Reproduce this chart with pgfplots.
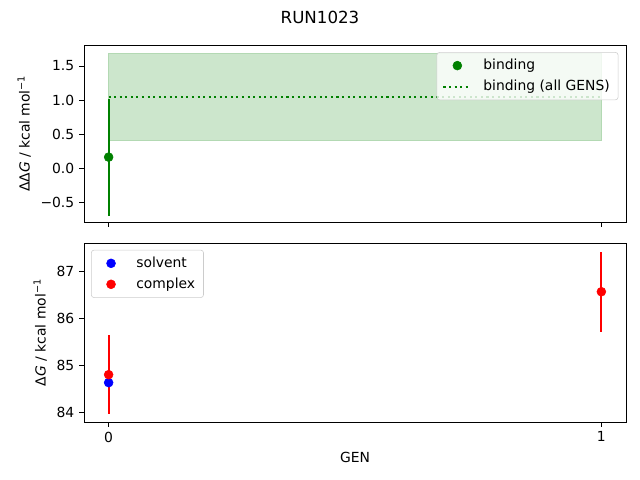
\documentclass[border=0pt]{standalone}
\usepackage{fontspec}
\setmainfont{DejaVu Sans}
\setsansfont{DejaVu Sans}
\usepackage{pgfplots}
\pgfplotsset{compat=1.18}
\definecolor{mgreen}{HTML}{008000}
\definecolor{band}{HTML}{CCE6CC}
\definecolor{bandedge}{HTML}{B3D9B3}

\pgfplotsset{
  runstyle/.style={
    scale only axis,
    width=390.24pt,
    xmin=-0.05, xmax=1.05,
    xtick={0,1},
    xtick pos=bottom, ytick pos=left,
    tick align=outside,
    major tick length=3.5pt,
    every tick/.style={black, line width=0.6pt},
    axis line style={black, line width=0.6pt},
    tick label style={font=\fontsize{10}{12}\selectfont},
    label style={font=\fontsize{10}{12}\selectfont},
    /pgf/number format/assume math mode=true,
    legend style={font=\fontsize{10}{12}\selectfont, draw=black!20, rounded corners=2pt,
      fill=white, fill opacity=0.8, text opacity=1, inner xsep=4pt, inner ysep=3pt,
      row sep=2pt, column sep=0pt,
      /tikz/every odd column/.append style={column sep=6pt}},
    legend image post style={fill opacity=1, draw opacity=1},
    legend cell align=left,
    clip=false,
  },
  markleg/.style={legend image code/.code={
    \path (0pt,0pt) (20pt,0pt);
    \draw[##1, mark repeat=2, mark phase=2] plot coordinates {(0pt,0pt) (10pt,0pt) (20pt,0pt)};}},
  lineleg/.style={legend image code/.code={
    \draw[##1] (0pt,0pt) -- (20pt,0pt);}},
}

\begin{document}
\begin{tikzpicture}
\useasboundingbox (0,0) rectangle (460.8pt,345.6pt);
\node[font=\fontsize{12}{14}\selectfont] at (230.4pt,333.4pt) {RUN1023};

% top panel
\begin{axis}[runstyle,
  at={(60.48pt,185.76pt)}, anchor=south west,
  height=127.44pt,
  ymin=-0.794, ymax=1.809,
  xticklabels={},
  ytick={-0.5,0,0.5,1,1.5},
  yticklabels={−0.5,0.0,0.5,1.0,1.5},
  ylabel={ΔΔ\textit{G} / kcal mol\textsuperscript{−1}},
  legend style={at={(0.986,0.96)}, anchor=north east},
]
\addplot[fill=band, draw=bandedge, line width=0.5pt, forget plot]
  coordinates {(0,0.40) (1,0.40) (1,1.685) (0,1.685)} -- cycle;
\addplot[only marks, mark=*, mark size=3.2pt, color=mgreen, markleg,
  error bars/.cd, y dir=both, y explicit, error mark=none,
  error bar style={line width=1.5pt, mgreen}]
  coordinates {(0,0.16) +- (0,0.86)};
\addlegendentry{binding}
\addplot[mgreen, line width=1.5pt, dash pattern=on 1.5pt off 2.5pt, lineleg]
  coordinates {(0,1.044) (1,1.044)};
\addlegendentry{binding (all GENS)}
\end{axis}

% bottom panel
\begin{axis}[runstyle,
  at={(60.48pt,41.76pt)}, anchor=south west,
  height=128.88pt,
  ymin=83.79, ymax=87.61,
  xticklabels={0,1},
  ytick={84,85,86,87},
  yticklabels={84,85,86,87},
  xlabel={GEN},
  ylabel={Δ\textit{G} / kcal mol\textsuperscript{−1}},
  legend style={at={(0.013,0.962)}, anchor=north west},
]
\addplot[only marks, mark=*, mark size=3.2pt, color=blue, markleg]
  coordinates {(0,84.63)};
\addlegendentry{solvent}
\addplot[only marks, mark=*, mark size=3.2pt, color=red, markleg,
  error bars/.cd, y dir=both, y explicit, error mark=none,
  error bar style={line width=1.5pt, red}]
  coordinates {(0,84.80) +- (0,0.84) (1,86.57) +- (0,0.85)};
\addlegendentry{complex}
\end{axis}
\end{tikzpicture}
\end{document}
